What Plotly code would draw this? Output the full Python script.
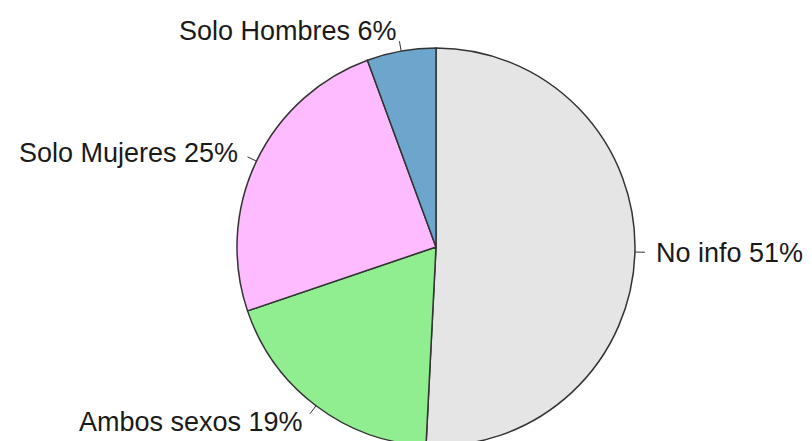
import math
import plotly.graph_objects as go

# Share of records by sex category (percent)
categories = ["No info", "Ambos sexos", "Solo Mujeres", "Solo Hombres"]
values = [50.8, 19.0, 24.6, 5.6]
colors = ["#E5E5E5", "#90EE90", "#FFBBFF", "#6CA6CD"]

W, H = 812, 460          # page is taller than the view so the pie's foot is cropped
cx, cy, R = 436, 247, 199  # pie centre and radius in pixels

fig = go.Figure(go.Pie(
    labels=categories,
    values=values,
    sort=False,
    direction="clockwise",
    rotation=0,
    marker=dict(colors=colors, line=dict(color="#333333", width=1.5)),
    textinfo="none",
    hoverinfo="label+percent",
    showlegend=False,
    domain=dict(x=[(cx - R) / W, (cx + R) / W],
                y=[(H - cy - R) / H, (H - cy + R) / H]),
))

def to_paper(px, py):
    return px / W, 1 - py / H

total = sum(values)
cum = 0.0
annotations, shapes = [], []
for name, v in zip(categories, values):
    mid = (cum + v / 2) / total * 2 * math.pi
    cum += v
    s, c = math.sin(mid), math.cos(mid)
    x0, y0 = to_paper(cx + R * s, cy - R * c)
    x1, y1 = to_paper(cx + 1.05 * R * s, cy - 1.05 * R * c)
    xt, yt = to_paper(cx + 1.1 * R * s, cy - 1.1 * R * c)
    shapes.append(dict(type="line", xref="paper", yref="paper",
                       x0=x0, y0=y0, x1=x1, y1=y1,
                       line=dict(color="#333333", width=1)))
    pct = round(v / total * 100)
    annotations.append(dict(
        text=f"{name} {pct}%", xref="paper", yref="paper", x=xt, y=yt,
        xanchor="left" if s > 0 else "right", yanchor="middle",
        showarrow=False, borderpad=0,
        font=dict(family="Liberation Sans, Arial, sans-serif", size=27, color="#1a1a1a"),
    ))

fig.update_layout(
    width=W, height=H,
    margin=dict(l=0, r=0, t=0, b=0),
    paper_bgcolor="white", plot_bgcolor="white",
    annotations=annotations, shapes=shapes,
)

fig.write_html(
    "out.html",
    post_script="document.documentElement.style.overflow='hidden';document.body.style.overflow='hidden';document.body.style.margin='0';",
)
